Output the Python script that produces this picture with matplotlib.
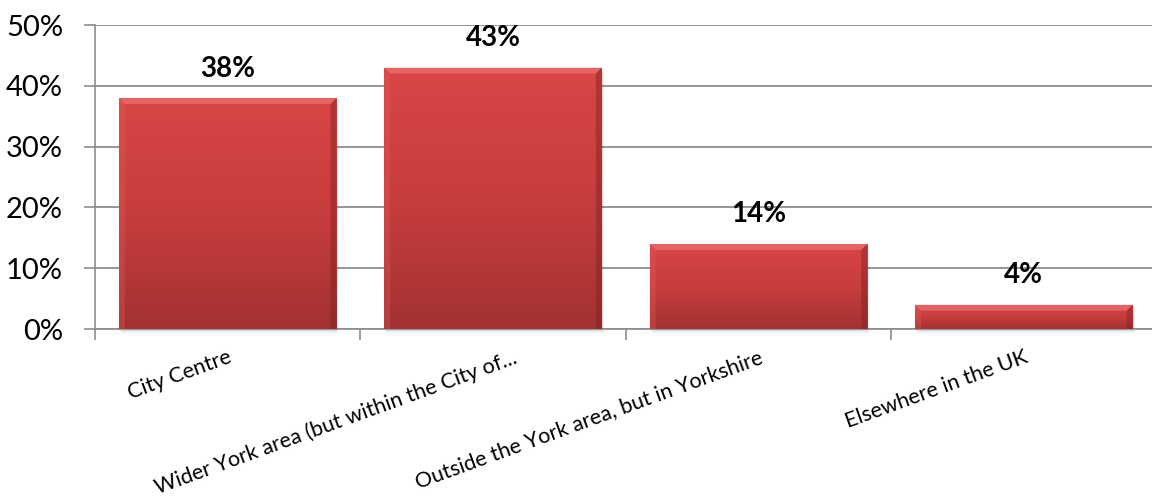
import matplotlib
matplotlib.use("Agg")
import matplotlib.pyplot as plt
import matplotlib.transforms as mtransforms
import numpy as np
from matplotlib.patches import Rectangle, Polygon
from matplotlib.colors import LinearSegmentedColormap

# data
categories = ["City Centre",
              "Wider York area (but within the City of...",
              "Outside the York area, but in Yorkshire",
              "Elsewhere in the UK"]
shares = [0.38, 0.43, 0.14, 0.04]
value_labels = ["38%", "43%", "14%", "4%"]
y_ticks = [0.0, 0.1, 0.2, 0.3, 0.4, 0.5]
y_tick_labels = ["0%", "10%", "20%", "30%", "40%", "50%"]

plt.rcParams['font.family'] = ['Lato', 'DejaVu Sans']

W, H = 1152, 497
fig = plt.figure(figsize=(W / 100, H / 100), dpi=100)
left_px, right_px, top_px, bottom_px = 95, 1156.5, 25, 329
ax = fig.add_axes([left_px / W, (H - bottom_px) / H,
                   (right_px - left_px) / W, (bottom_px - top_px) / H])
ax.set_xlim(-0.5, len(categories) - 0.5)
ax.set_ylim(0, 0.5)

# pixel size in data units (for bevel / shadow)
px_x = len(categories) / (right_px - left_px)
px_y = 0.5 / (bottom_px - top_px)

grad_cmap = LinearSegmentedColormap.from_list("bar", ["#a33232", "#c83d3d", "#d94646"])
bar_w = 0.82
bev = 6

for i, v in enumerate(shares):
    x0, x1 = i - bar_w / 2, i + bar_w / 2
    # soft shadow
    for k, a in [(4, 0.06), (2, 0.10)]:
        ax.add_patch(Rectangle((x0 + k * px_x * 0.5, -k * px_y), bar_w, v,
                               facecolor="black", alpha=a, lw=0, zorder=2,
                               clip_on=False))
    bar = Rectangle((x0, 0), bar_w, v, facecolor="#c83e3e", lw=0, zorder=3)
    ax.add_patch(bar)
    grad = np.linspace(0, 1, 256).reshape(-1, 1)
    im = ax.imshow(grad, extent=[x0, x1, 0, v], origin="lower", cmap=grad_cmap,
                   aspect="auto", zorder=3.1, interpolation="bicubic")
    im.set_clip_path(bar)
    dx, dy = bev * px_x, bev * px_y
    # top bevel (light)
    ax.add_patch(Polygon([(x0, v), (x1, v), (x1 - dx, v - dy), (x0 + dx, v - dy)],
                         facecolor="#f08080", alpha=0.55, lw=0, zorder=3.2))
    # left bevel
    ax.add_patch(Polygon([(x0, 0), (x0, v), (x0 + dx, v - dy), (x0 + dx, 0)],
                         facecolor="#e06060", alpha=0.3, lw=0, zorder=3.2))
    # right bevel (dark)
    ax.add_patch(Polygon([(x1, 0), (x1, v), (x1 - dx, v - dy), (x1 - dx, 0)],
                         facecolor="#7a1c1c", alpha=0.4, lw=0, zorder=3.2))
    ax.text(i, v + 0.027, value_labels[i], ha="center", va="bottom",
            fontsize=20, fontweight="bold", color="black", zorder=5)

# gridlines and axes
ax.set_yticks(y_ticks)
ax.set_yticklabels(y_tick_labels, fontsize=21)
ax.yaxis.grid(True, color="#8c8c8c", lw=1.3)
ax.set_axisbelow(True)
ax.tick_params(axis="y", length=8, width=1.2, color="#8c8c8c", pad=15)

ax.set_xticks(range(len(categories)))
ax.set_xticklabels(categories, rotation=20, ha="right", va="top",
                   rotation_mode="anchor", fontsize=15.5)
ax.tick_params(axis="x", which="major", length=0, pad=13)
ax.set_xticks(np.arange(-0.5, len(categories), 1.0), minor=True)
ax.tick_params(axis="x", which="minor", length=8, width=1.2, color="#8c8c8c")

# the truncated label sits a little right of its category in the original
lbl = ax.get_xticklabels()[1]
lbl.set_transform(lbl.get_transform() +
                  mtransforms.ScaledTranslation(0.2, 0, fig.dpi_scale_trans))

for s in ["top", "right"]:
    ax.spines[s].set_visible(False)
ax.spines["left"].set_color("#8c8c8c")
ax.spines["left"].set_linewidth(1.2)
ax.spines["bottom"].set_color("#8c8c8c")
ax.spines["bottom"].set_linewidth(1.2)

fig.savefig("out.png", dpi=100)
